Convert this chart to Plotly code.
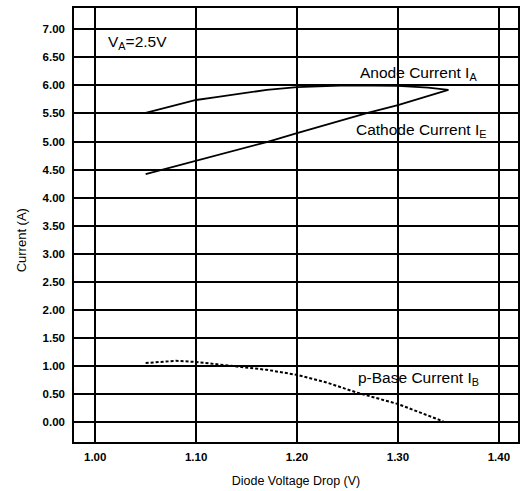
import plotly.graph_objects as go

# Diode voltage drop (V) and the currents through the device at V_A = 2.5 V
anode_v = [1.05, 1.08, 1.10, 1.12, 1.15, 1.17, 1.20, 1.25, 1.30, 1.33, 1.35]
anode_i = [5.51, 5.65, 5.74, 5.79, 5.86, 5.92, 5.97, 6.00, 5.99, 5.96, 5.92]

cathode_v = [1.05, 1.10, 1.17, 1.20, 1.27, 1.30, 1.35]
cathode_i = [4.42, 4.66, 4.99, 5.15, 5.51, 5.65, 5.92]

base_v = [1.05, 1.08, 1.10, 1.12, 1.15, 1.17, 1.20, 1.23, 1.26, 1.30, 1.345]
base_i = [1.05, 1.09, 1.07, 1.03, 0.98, 0.93, 0.84, 0.70, 0.52, 0.32, 0.01]

x_ticks = [1.00, 1.10, 1.20, 1.30, 1.40]
y_ticks = [0.00, 0.50, 1.00, 1.50, 2.00, 2.50, 3.00, 3.50,
           4.00, 4.50, 5.00, 5.50, 6.00, 6.50, 7.00]

FONT = "Liberation Sans, Arial, sans-serif"

fig = go.Figure()
fig.add_trace(go.Scatter(x=anode_v, y=anode_i, mode="lines",
                         line=dict(color="black", width=1.8)))
fig.add_trace(go.Scatter(x=cathode_v, y=cathode_i, mode="lines",
                         line=dict(color="black", width=1.8)))
fig.add_trace(go.Scatter(x=base_v, y=base_i, mode="lines",
                         line=dict(color="black", width=2, dash="3px,2px")))

labels = [
    (1.042, 6.77, "V<sub>A</sub>=2.5V"),
    (1.320, 6.22, "Anode Current I<sub>A</sub>"),
    (1.323, 5.20, "Cathode Current I<sub>E</sub>"),
    (1.320, 0.78, "p-Base Current I<sub>B</sub>"),
]
for x, y, t in labels:
    fig.add_annotation(x=x, y=y, text=t, showarrow=False,
                       font=dict(family=FONT, size=15.5, color="black"))

# vertical axis title, placed by hand left of the tick labels
fig.add_annotation(x=-0.119, y=0.465, xref="paper", yref="paper",
                   xanchor="center", yanchor="middle",
                   text="Current (A)", textangle=-90, showarrow=False,
                   font=dict(family=FONT, size=13, color="black"))

axis_common = dict(
    showgrid=True, gridcolor="black", gridwidth=1.5,
    showline=True, linecolor="black", linewidth=1.5, mirror=True,
    zeroline=False, ticks="", tickformat=".2f",
    tickfont=dict(family=FONT, size=11.5, color="black", weight="bold"),
)

fig.update_xaxes(range=[0.979, 1.419], tickvals=x_ticks,
                 title=dict(text="Diode Voltage Drop (V)", standoff=15,
                            font=dict(family=FONT, size=12.5, color="black")),
                 ticklabelstandoff=3, **axis_common)
fig.update_yaxes(range=[-0.357, 7.38], tickvals=y_ticks,
                 ticklabelstandoff=5, **axis_common)

fig.update_layout(
    width=522, height=491,
    margin=dict(l=74, r=2, t=8, b=49),
    paper_bgcolor="white", plot_bgcolor="white",
    showlegend=False,
)

fig.write_html("out.html")
